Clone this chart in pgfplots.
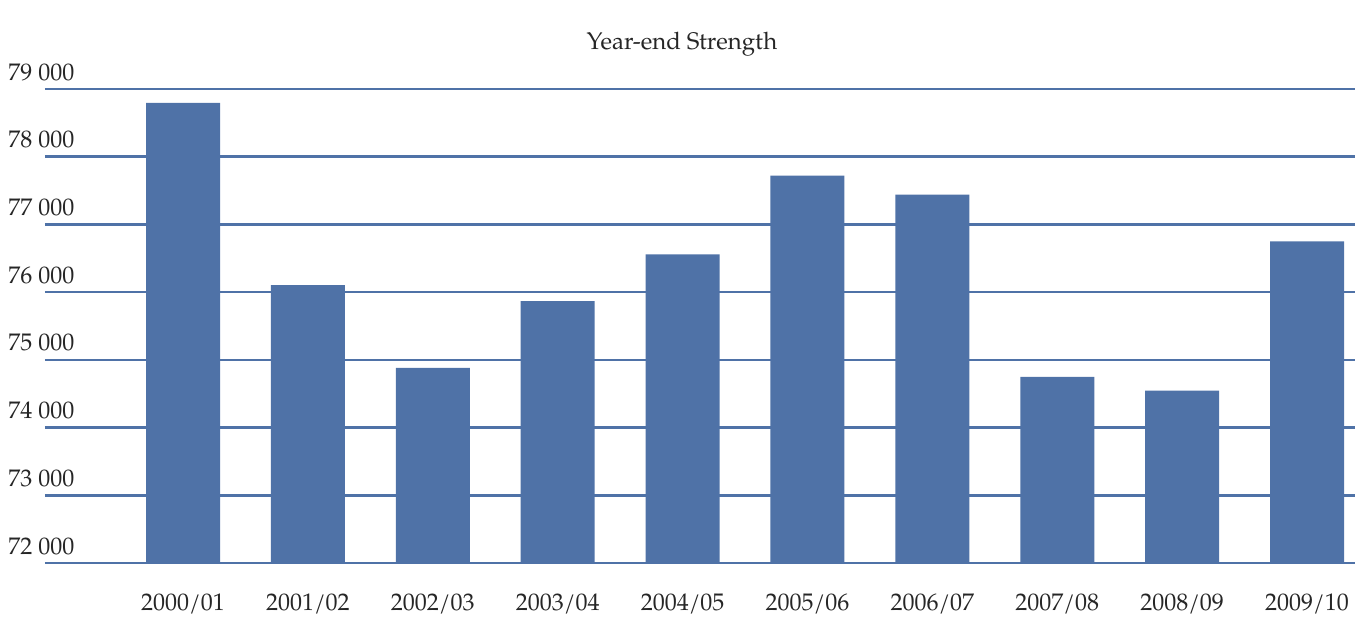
\documentclass[border=0pt]{standalone}
\usepackage{fontspec}
\setmainfont{TeX Gyre Pagella}
\usepackage{pgfplots}
\pgfplotsset{compat=1.18}
\definecolor{barblue}{RGB}{79,114,167}
\begin{document}
\begin{tikzpicture}
\useasboundingbox (-22.5pt,-27pt) rectangle (663.5pt,281.5pt);
\begin{axis}[
  at={(0,0)}, anchor=south west,
  scale only axis, width=655pt, height=237pt,
  xmin=-1.105, xmax=9.384, ymin=72000, ymax=79000,
  clip mode=individual,
  scaled y ticks=false,
  axis line style={draw=none},
  ybar, bar width=37pt, bar shift=0pt,
  xtick={0,1,2,3,4,5,6,7,8,9},
  xticklabels={2000/01,2001/02,2002/03,2003/04,2004/05,2005/06,2006/07,2007/08,2008/09,2009/10},
  ytick={72000,73000,74000,75000,76000,77000,78000,79000},
  yticklabels={72 000,73 000,74 000,75 000,76 000,77 000,78 000,79 000},
  major tick length=0pt,
  ymajorgrids, xmajorgrids=false,
  grid style={barblue, line width=1.25pt},
  yticklabel style={anchor=base west, inner sep=0pt, xshift=-18.5pt, yshift=4.5pt, font=\fontsize{12}{14}\selectfont, text=black!85},
  xticklabel style={anchor=base, inner sep=0pt, yshift=-23.5pt, font=\fontsize{12}{14}\selectfont, text=black!85},
  title={Year-end Strength},
  title style={at={(rel axis cs:0.5,1)}, anchor=base, yshift=14pt, xshift=-9pt, inner sep=0pt, font=\fontsize{12}{14}\selectfont, text=black!85},
]
\addplot[fill=barblue, draw=none] coordinates {
  (0,78794) (1,76103) (2,74882) (3,75868) (4,76559)
  (5,77721) (6,77441) (7,74750) (8,74544) (9,76750)
};
\end{axis}
\end{tikzpicture}
\end{document}
